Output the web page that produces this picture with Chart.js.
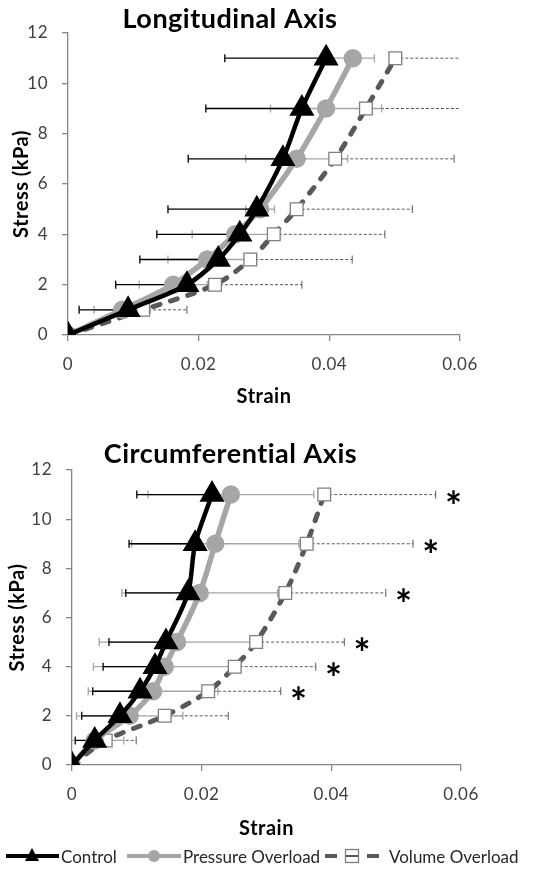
<!DOCTYPE html>
<html>
<head>
<meta charset="utf-8">
<script src="https://cdn.jsdelivr.net/npm/chart.js@4.4.1/dist/chart.umd.min.js"></script>
<style>
  body { margin: 0; width: 558px; height: 880px; background: #fff; position: relative; overflow: hidden; font-family: Lato, sans-serif; }
  canvas { position: absolute; left: 0; }
  .item { position: absolute; top: 846px; height: 20px; display: flex; align-items: center; font-size: 17px; color: #262626; white-space: nowrap; }
  .item svg { margin-right: 2px; }
</style>
</head>
<body>
<canvas id="chart-long" width="558" height="420" style="top:0"></canvas>
<canvas id="chart-circ" width="558" height="430" style="top:420px"></canvas>

<div class="item" style="left:6px">
  <svg width="53" height="20"><line x1="0" y1="10" x2="53" y2="10" stroke="#000" stroke-width="4"/><polygon points="26,2 33,15 19,15" fill="#000"/></svg>Control
</div>
<div class="item" style="left:127px">
  <svg width="54" height="20"><line x1="0" y1="10" x2="54" y2="10" stroke="#a6a6a6" stroke-width="4"/><circle cx="27" cy="10" r="6" fill="#a6a6a6"/></svg>Pressure Overload
</div>
<div class="item" style="left:325px">
  <svg width="54" height="20"><line x1="0" y1="10" x2="12" y2="10" stroke="#595959" stroke-width="4"/><line x1="42" y1="10" x2="54" y2="10" stroke="#595959" stroke-width="4"/><line x1="20" y1="10" x2="34" y2="10" stroke="#595959" stroke-width="2"/><rect x="20.5" y="3.5" width="13" height="13" fill="none" stroke="#7f7f7f" stroke-width="1.3"/></svg><span style="margin-left:8px">Volume Overload</span>
</div>

<script>
// =====================================================
// Curvas esfuerzo-deformación (Chart.js)
// =====================================================

// Esfuerzo (kPa) de cada punto, igual en los dos gráficos
const esfuerzo = [0, 1, 2, 3, 4, 5, 7, 9, 11];

// Eje longitudinal: deformación media y barras de error
const longControl = [0, 0.0092, 0.0182, 0.0230, 0.0263, 0.0289, 0.0329, 0.0358, 0.0395];
const longControlErr = [0, 0.0075, 0.0109, 0.0120, 0.0127, 0.0136, 0.0145, 0.0147, 0.0155];
const longPresion = [0, 0.0083, 0.0161, 0.0213, 0.0256, 0.0294, 0.0350, 0.0395, 0.0436];
const longPresionErr = [0, 0.0043, 0.0052, 0.0060, 0.0066, 0.0022, 0.0078, 0.0085, 0.0033];
const longVolumen = [0, 0.0115, 0.0225, 0.0279, 0.0315, 0.0350, 0.0409, 0.0456, 0.0501];
const longVolumenErr = [0, 0.0067, 0.0133, 0.0156, 0.0170, 0.0177, 0.0182, 0.0205, 0.0215];

// Eje circunferencial
const circControl = [0, 0.0035, 0.0074, 0.0105, 0.0128, 0.0145, 0.0179, 0.0190, 0.0216];
const circControlErr = [0, 0.0030, 0.0059, 0.0073, 0.0080, 0.0088, 0.0096, 0.0102, 0.0116];
const circPresion = [0, 0.0035, 0.0089, 0.0125, 0.0143, 0.0162, 0.0197, 0.0221, 0.0245];
const circPresionErr = [0, 0.0045, 0.0082, 0.0100, 0.0110, 0.0120, 0.0120, 0.0129, 0.0128];
const circVolumen = [0, 0.0052, 0.0143, 0.0210, 0.0251, 0.0284, 0.0329, 0.0362, 0.0389];
const circVolumenErr = [0, 0.0047, 0.0098, 0.0112, 0.0125, 0.0136, 0.0155, 0.0164, 0.0172];
// Diferencia significativa (asterisco) por punto de volumen
const circSignificativo = [0, 0, 0, 1, 1, 1, 1, 1, 1];

// Ticks de los ejes
const xTicks = [0, 0.02, 0.04, 0.06];
const xTickLabels = ['0', '0.02', '0.04', '0.06'];
const yTicks = [0, 2, 4, 6, 8, 10, 12];
const yTickLabels = ['0', '2', '4', '6', '8', '10', '12'];

const COLORES = { control: '#000000', presion: '#a6a6a6', volumen: '#595959', borde: '#7f7f7f', eje: '#868686', texto: '#404040' };

/** Convierte el array de deformación en puntos {x, y} */
function puntos(deform) {
  return deform.map((v, i) => ({ x: v, y: esfuerzo[i] }));
}

/** Barras de error horizontales y asteriscos, dibujados con las escalas del gráfico */
const pluginErrores = {
  id: 'errores',
  beforeDraw(chart) {
    // sin ligaduras "ti" de Lato y algo más de ancho en los títulos
    chart.ctx.letterSpacing = '0.5px';
  },
  beforeDatasetsDraw(chart, args, opts) {
    const { ctx, chartArea: a, scales: { x, y } } = chart;
    ctx.save();
    ctx.beginPath();
    ctx.rect(a.left, a.top - 10, a.width, a.height + 20);
    ctx.clip();
    opts.series.forEach(s => {
      s.valores.forEach((v, i) => {
        const menos = s.menos ? s.menos[i] : 0;
        const mas = s.mas ? s.mas[i] : 0;
        if (!menos && !mas) return;
        const py = y.getPixelForValue(esfuerzo[i]);
        const x1 = x.getPixelForValue(v - menos);
        const x2 = x.getPixelForValue(v + mas);
        ctx.strokeStyle = s.color;
        ctx.lineWidth = s.ancho;
        ctx.setLineDash(s.dash || []);
        ctx.beginPath();
        ctx.moveTo(x1, py);
        ctx.lineTo(Math.min(x2, a.right), py);
        ctx.stroke();
        ctx.setLineDash([]);
        ctx.beginPath();
        if (menos) { ctx.moveTo(x1, py - 4); ctx.lineTo(x1, py + 4); }
        if (mas && x2 <= a.right) { ctx.moveTo(x2, py - 4); ctx.lineTo(x2, py + 4); }
        ctx.stroke();
      });
    });
    ctx.restore();
  },
  afterDatasetsDraw(chart, args, opts) {
    if (!opts.asteriscos) return;
    const { ctx, scales: { x, y } } = chart;
    const ast = opts.asteriscos;
    ctx.save();
    ctx.fillStyle = '#000';
    ctx.font = 'bold 40px Lato';
    ctx.textAlign = 'center';
    ctx.textBaseline = 'alphabetic';
    const m = ctx.measureText('*');
    const centro = (m.actualBoundingBoxDescent - m.actualBoundingBoxAscent) / 2;
    ast.marcas.forEach((marca, i) => {
      if (!marca) return;
      const px = x.getPixelForValue(ast.valores[i] + ast.mas[i]) + 18;
      const py = y.getPixelForValue(esfuerzo[i]) + 2;
      ctx.fillText('*', px, py - centro);
    });
    ctx.restore();
  },
};

/** Crea uno de los dos gráficos */
function crearGrafico(id, cfg) {
  const canvas = document.getElementById(id);
  const series = [
    { label: 'Control', data: puntos(cfg.control), borderColor: COLORES.control, backgroundColor: COLORES.control, borderWidth: 4.5, pointStyle: 'triangle', pointRadius: 10 },
    { label: 'Pressure Overload', data: puntos(cfg.presion), borderColor: COLORES.presion, backgroundColor: COLORES.presion, borderWidth: 5.5, pointStyle: 'circle', pointRadius: 6.5 },
    { label: 'Volume Overload', data: puntos(cfg.volumen), borderColor: COLORES.volumen, backgroundColor: '#ffffff', borderWidth: 5, borderDash: [7, 11], borderCapStyle: 'round', pointStyle: 'rect', pointRadius: 9, pointBorderColor: COLORES.borde, pointBorderWidth: 1.3 },
  ];
  // Orden de dibujo: volumen abajo, control arriba
  series.forEach((s, i) => { s.order = i; s.showLine = true; s.tension = 0.3; s.pointHoverRadius = s.pointRadius; });

  return new Chart(canvas, {
    type: 'scatter',
    data: { datasets: series },
    plugins: [pluginErrores],
    options: {
      responsive: false,
      animation: false,
      devicePixelRatio: 1,
      layout: { padding: { left: 0, right: cfg.derecha, top: 0, bottom: 0 } },
      plugins: {
        legend: { display: false },
        tooltip: { enabled: false },
        title: { display: true, text: cfg.titulo, color: '#000', font: { family: 'Lato', size: 27, weight: 'bold', lineHeight: 1 }, padding: cfg.paddingTitulo },
        errores: {
          series: [
            { valores: cfg.volumen, mas: cfg.volumenErr, color: '#595959', ancho: 1, dash: [3, 2] },
            { valores: cfg.presion, menos: cfg.presionErr, mas: cfg.presionErr, color: COLORES.presion, ancho: 1.3 },
            { valores: cfg.control, menos: cfg.controlErr, color: COLORES.control, ancho: 1.3 },
          ],
          asteriscos: cfg.significativo ? { marcas: cfg.significativo, valores: cfg.volumen, mas: cfg.volumenErr } : null,
        },
      },
      scales: {
        x: {
          type: 'linear', min: 0, max: 0.06,
          afterBuildTicks: s => { s.ticks = xTicks.map(v => ({ value: v })); },
          afterFit: s => { s.height = cfg.altoX; },
          ticks: { color: COLORES.texto, font: { family: 'Lato', size: 17 }, padding: 13, callback: (v, i) => xTickLabels[i] },
          grid: { display: true, drawOnChartArea: false, drawTicks: true, tickLength: 6, color: COLORES.eje, lineWidth: 1.3 },
          border: { display: true, color: COLORES.eje, width: 1.3 },
          title: { display: true, text: 'Strain', color: '#000', font: { family: 'Lato', size: 20, weight: 'bold', lineHeight: 1.2 }, padding: { top: 0, bottom: cfg.paddingX } },
        },
        y: {
          type: 'linear', min: 0, max: 12,
          afterBuildTicks: s => { s.ticks = yTicks.map(v => ({ value: v })); },
          afterFit: s => { s.width = cfg.anchoY; },
          ticks: { color: COLORES.texto, font: { family: 'Lato', size: 17 }, padding: 14, callback: (v, i) => yTickLabels[i] },
          grid: { display: true, drawOnChartArea: false, drawTicks: true, tickLength: 6, color: COLORES.eje, lineWidth: 1.3 },
          border: { display: true, color: COLORES.eje, width: 1.3 },
          title: { display: true, text: 'Stress (kPa)', color: '#000', font: { family: 'Lato', size: 20, weight: 'bold', lineHeight: 1.2 }, padding: { top: cfg.paddingY, bottom: 0 } },
        },
      },
    },
  });
}

crearGrafico('chart-long', {
  titulo: 'Longitudinal Axis',
  control: longControl, controlErr: longControlErr,
  presion: longPresion, presionErr: longPresionErr,
  volumen: longVolumen, volumenErr: longVolumenErr,
  significativo: null,
  derecha: 98, anchoY: 68, altoX: 85, paddingX: 11, paddingY: 10,
  paddingTitulo: { top: 6, bottom: 0 },
});

crearGrafico('chart-circ', {
  titulo: 'Circumferential Axis',
  control: circControl, controlErr: circControlErr,
  presion: circPresion, presionErr: circPresionErr,
  volumen: circVolumen, volumenErr: circVolumenErr,
  significativo: circSignificativo,
  derecha: 97, anchoY: 72, altoX: 85, paddingX: 9, paddingY: 6,
  paddingTitulo: { top: 21, bottom: 2 },
});
</script>
</body>
</html>
